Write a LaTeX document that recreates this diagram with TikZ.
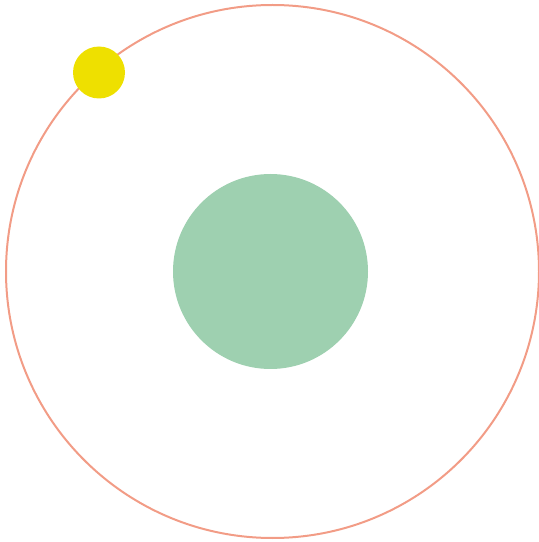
\documentclass[tikz,border=0pt]{standalone}
\usepackage{xcolor}
\definecolor{OrbitSalmon}{HTML}{F29C86}
\definecolor{CoreGreen}{HTML}{9ED0B0}
\definecolor{SunYellow}{HTML}{EEE000}
\usetikzlibrary{positioning}

\begin{document}
\begin{tikzpicture}[x=1pt,y=1pt, every node/.style={circle, inner sep=0pt, outer sep=0pt}, body/.style={draw=none, fill=#1}]
        \useasboundingbox (0,0) rectangle (539,542);
        \node[draw=OrbitSalmon, line width=2pt, minimum size=533pt] (orbit) at (272.5,270.5) {};
        \node[body=CoreGreen, minimum size=195pt] (core) at (270.5,270.5) {};
        \node[body=SunYellow, minimum size=52pt] (sun) at (99,469.5) {};
    \end{tikzpicture}
\end{document}
